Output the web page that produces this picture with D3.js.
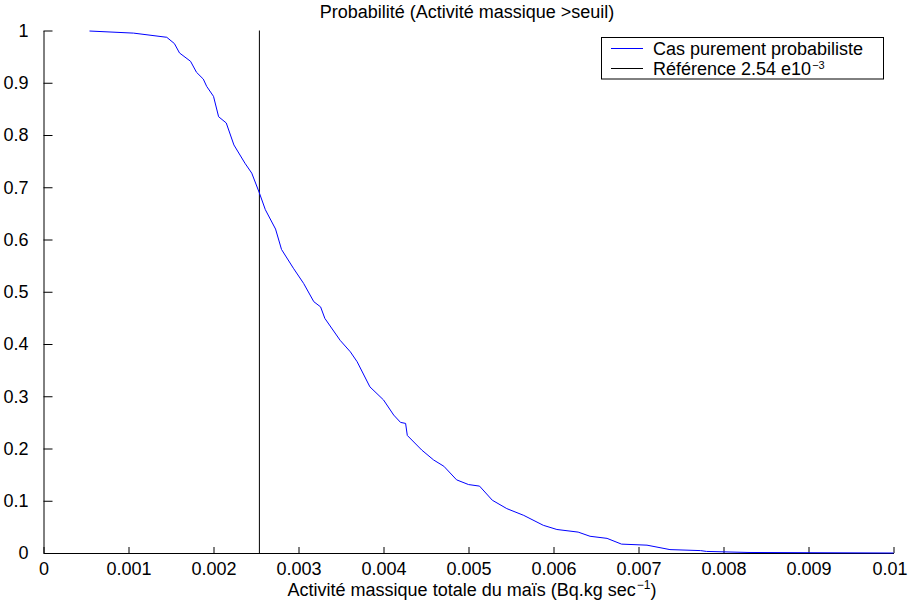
<!DOCTYPE html>
<html lang="fr">
<head>
  <meta charset="UTF-8">
  <title>Probabilité (Activité massique >seuil)</title>
  <script src="https://d3js.org/d3.v7.min.js"></script>
  <style>
    body { margin: 0; background: #fff; }
    svg { display: block; font-family: "Liberation Sans", Arial, sans-serif; }
    .axis text { font-size: 18px; fill: #000; }
    .axis path, .axis line { stroke: #000; }
  </style>
</head>
<body>
  <div id="chart"></div>
  <script>
    // activité massique (Bq.kg sec^-1, x 1e-3) et probabilité de dépassement
    const activite = [0.541, 1.06, 1.45, 1.54, 1.60, 1.73, 1.80, 1.88, 1.92, 2.00,
      2.06, 2.15, 2.24, 2.37, 2.45, 2.54, 2.61, 2.73, 2.80, 2.94,
      3.06, 3.18, 3.26, 3.31, 3.49, 3.61, 3.69, 3.84, 4.00, 4.12,
      4.20, 4.26, 4.28, 4.45, 4.59, 4.71, 4.86, 5.00, 5.13, 5.28,
      5.45, 5.65, 5.88, 6.04, 6.29, 6.43, 6.63, 6.80, 7.10, 7.37,
      7.73, 7.80, 8.30, 10.0];
    const probabilite = [0.999, 0.995, 0.987, 0.975, 0.957, 0.941, 0.920, 0.907, 0.893, 0.874,
      0.835, 0.823, 0.781, 0.746, 0.727, 0.689, 0.657, 0.620, 0.581, 0.545,
      0.516, 0.481, 0.471, 0.449, 0.407, 0.385, 0.366, 0.318, 0.293, 0.264,
      0.250, 0.248, 0.225, 0.197, 0.178, 0.166, 0.140, 0.131, 0.128, 0.101,
      0.085, 0.072, 0.053, 0.045, 0.040, 0.032, 0.028, 0.017, 0.015, 0.0065,
      0.0046, 0.003, 0.001, 0.0];
    const seuilRef = 2.54e-3;
    const xTicks = [0, 0.001, 0.002, 0.003, 0.004, 0.005, 0.006, 0.007, 0.008, 0.009, 0.01];
    const yTicks = [0, 0.1, 0.2, 0.3, 0.4, 0.5, 0.6, 0.7, 0.8, 0.9, 1];

    const width = 910, height = 601;
    const margin = { top: 30.5, right: 16.5, bottom: 48, left: 43.5 };

    const svg = d3.select('#chart').append('svg')
      .attr('width', width)
      .attr('height', height);

    const x = d3.scaleLinear().domain([0, 0.01]).range([margin.left, width - margin.right]);
    const y = d3.scaleLinear().domain([0, 1]).range([height - margin.bottom, margin.top]);

    const pts = activite.map((a, i) => [a * 1e-3, probabilite[i]]);

    // axes (ticks vers l'intérieur, comme matlab)
    svg.append('g')
      .attr('class', 'axis')
      .attr('transform', `translate(0,${y(0)})`)
      .call(d3.axisBottom(x).tickValues(xTicks).tickFormat(d => d3.format('~g')(d))
        .tickSizeInner(-6).tickSizeOuter(0).tickPadding(12))
      .call(g => g.selectAll('text').attr('dy', '0.55em'))
      .call(g => g.selectAll('.tick:last-of-type text').attr('dx', -4));

    svg.append('g')
      .attr('class', 'axis')
      .attr('transform', `translate(${x(0)},0)`)
      .call(d3.axisLeft(y).tickValues(yTicks).tickFormat(d => d3.format('~g')(d))
        .tickSizeInner(-9).tickSizeOuter(0).tickPadding(15));

    svg.selectAll('.axis .domain').attr('stroke-width', 1);

    // référence
    svg.append('line')
      .attr('x1', x(seuilRef)).attr('x2', x(seuilRef))
      .attr('y1', y(0)).attr('y2', y(1))
      .attr('stroke', '#000').attr('stroke-width', 1);

    // courbe
    svg.append('path')
      .datum(pts)
      .attr('fill', 'none')
      .attr('stroke', '#0000ff')
      .attr('stroke-width', 1)
      .attr('d', d3.line().x(d => x(d[0])).y(d => y(d[1])));

    // titre
    svg.append('text')
      .attr('x', 467).attr('y', 18)
      .attr('text-anchor', 'middle')
      .attr('font-size', 18)
      .text('Probabilité (Activité massique >seuil)');

    // label x
    const xl = svg.append('text')
      .attr('x', 472).attr('y', 596)
      .attr('text-anchor', 'middle')
      .attr('font-size', 18);
    xl.append('tspan').text('Activité massique totale du maïs (Bq.kg sec');
    xl.append('tspan').attr('font-size', 12).attr('dy', -7).attr('dx', 1).text('−1');
    xl.append('tspan').attr('dy', 7).text(')');

    // légende
    const leg = svg.append('g');
    leg.append('rect')
      .attr('x', 601.5).attr('y', 37.5).attr('width', 282).attr('height', 41.5)
      .attr('fill', '#fff').attr('stroke', '#000');
    const items = [
      { color: '#0000ff', label: 'Cas purement probabiliste', sup: null },
      { color: '#000', label: 'Référence 2.54 e10', sup: '−3' }
    ];
    items.forEach((it, i) => {
      const cy = 48.5 + i * 20;
      leg.append('line')
        .attr('x1', 611).attr('x2', 643).attr('y1', cy).attr('y2', cy)
        .attr('stroke', it.color);
      const t = leg.append('text')
        .attr('x', 653).attr('y', cy + 6)
        .attr('font-size', 18);
      t.append('tspan').text(it.label);
      if (it.sup) t.append('tspan').attr('font-size', 11).attr('dy', -6).attr('dx', 1).text(it.sup);
    });
  </script>
</body>
</html>
